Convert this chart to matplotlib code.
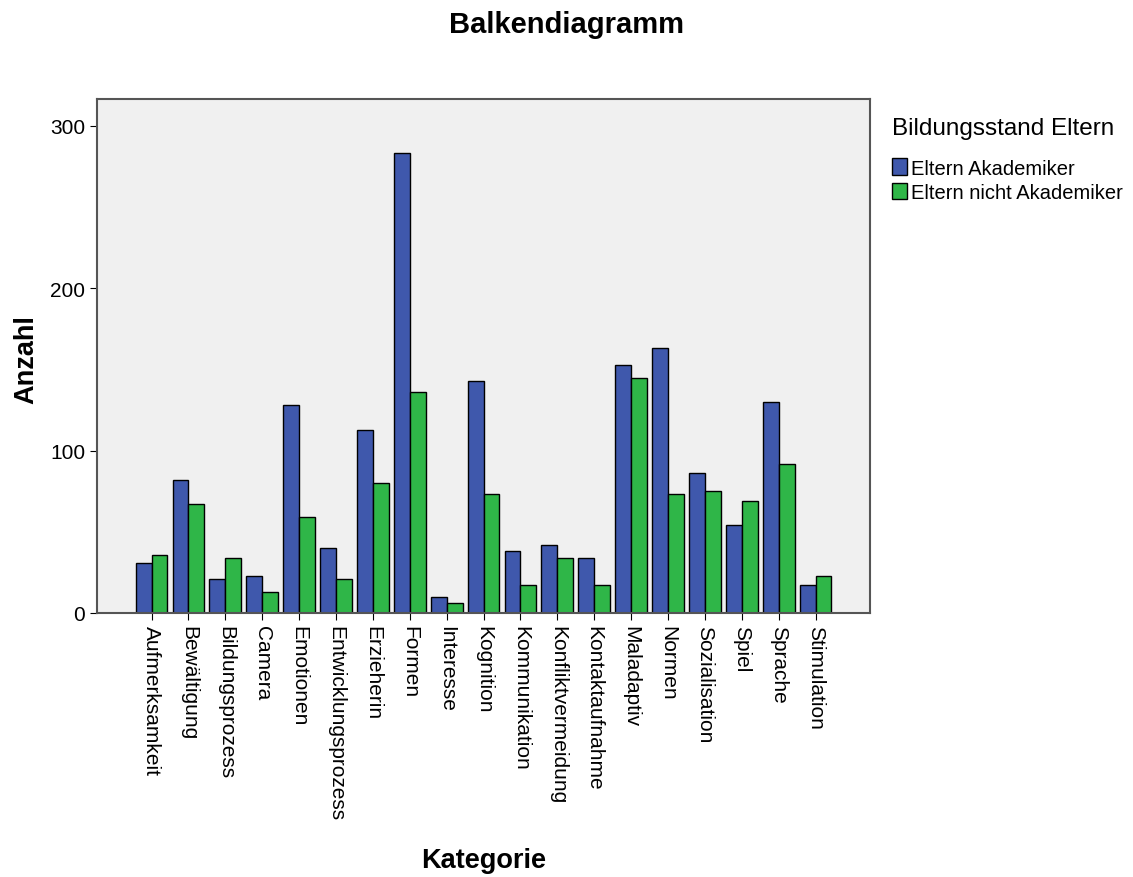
import numpy as np
import matplotlib
matplotlib.use("Agg")
import matplotlib.pyplot as plt

plt.rcParams['font.family'] = ['Liberation Sans', 'DejaVu Sans']

kategorien = ["Aufmerksamkeit", "Bewältigung", "Bildungsprozess", "Camera",
              "Emotionen", "Entwicklungsprozess", "Erzieherin", "Formen",
              "Interesse", "Kognition", "Kommunikation", "Konfliktvermeidung",
              "Kontaktaufnahme", "Maladaptiv", "Normen", "Sozialisation",
              "Spiel", "Sprache", "Stimulation"]
akademiker = [31, 82, 21, 23, 128, 40, 113, 283, 10, 143, 38, 42, 34, 153, 163, 86, 54, 130, 17]
nicht_akademiker = [36, 67, 34, 13, 59, 21, 80, 136, 6, 73, 17, 34, 17, 145, 73, 75, 69, 92, 23]
serien = ["Eltern Akademiker", "Eltern nicht Akademiker"]
farben = ["#3F58AC", "#2FB648"]

fig = plt.figure(figsize=(11.33, 8.78), dpi=100)
ax = fig.add_axes([0.0856, 0.3007, 0.6824, 0.5853])
ax.set_facecolor("#F0F0F0")

x = np.arange(len(kategorien))
w = 0.43
ax.bar(x - w / 2, akademiker, w, color=farben[0], edgecolor="black", linewidth=1, label=serien[0])
ax.bar(x + w / 2, nicht_akademiker, w, color=farben[1], edgecolor="black", linewidth=1, label=serien[1])

ax.set_xlim(-1.48, len(kategorien) - 1 + 1.48)
ax.set_ylim(0, 316.5)
ax.set_yticks([0, 100, 200, 300])
ax.set_xticks(x)
ax.set_xticklabels(kategorien, rotation=-90, va="top", ha="center")
ax.tick_params(axis="both", labelsize=15, length=5, color="black", direction="out")
for s in ax.spines.values():
    s.set_color("#555555")
    s.set_linewidth(1.5)

ax.set_ylabel("Anzahl", fontsize=19.5, fontweight="bold")
ax.set_xlabel("Kategorie", fontsize=19.5, fontweight="bold")
ax.xaxis.set_label_coords(0.5, -0.455)
ax.yaxis.set_label_coords(-0.074, 0.495)
fig.text(0.5, 0.9715, "Balkendiagramm", fontsize=21, fontweight="bold", ha="center", va="center")

leg = ax.legend(loc="upper left", bbox_to_anchor=(1.015, 0.985), frameon=False, fontsize=14.5,
                title="Bildungsstand Eltern", title_fontsize=17.5, handlelength=0.75,
                handleheight=0.9, handletextpad=0.2, labelspacing=0.25, borderpad=0)
leg._legend_box.align = "left"
leg._legend_box.sep = 14

fig.savefig("out.png", dpi=100)
